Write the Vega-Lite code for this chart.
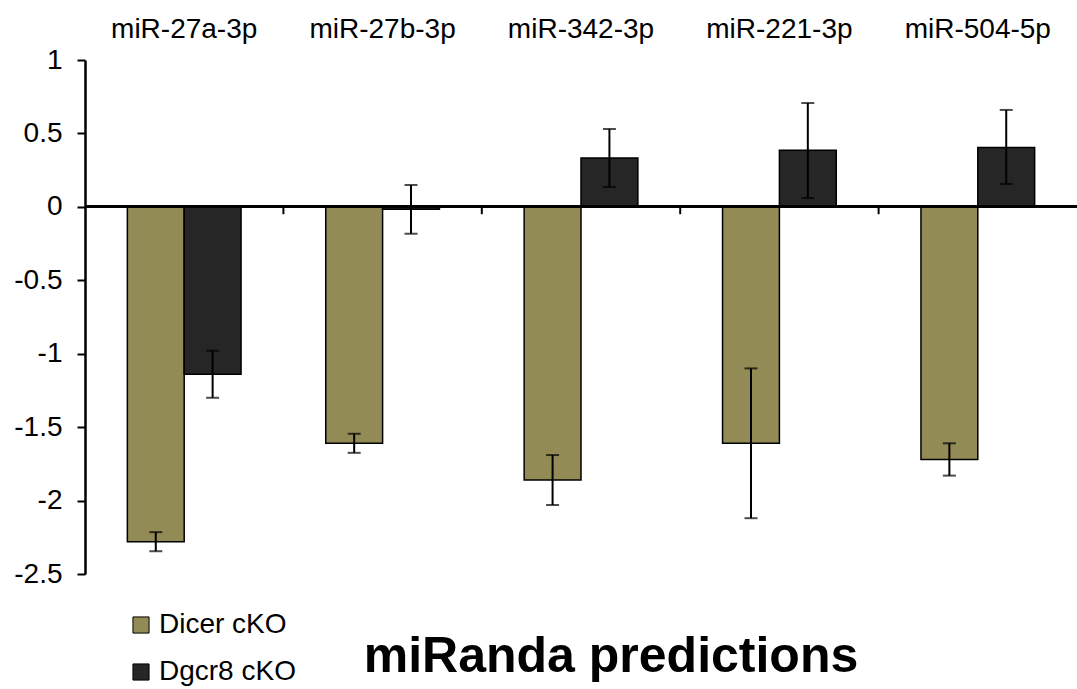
{
  "$schema": "https://vega.github.io/schema/vega-lite/v6.json",
  "autosize": {"type": "none"},
  "width": 992,
  "height": 514,
  "padding": {"left": 85, "top": 60, "right": 0, "bottom": 115},
  "background": "white",
  "config": {"font": "Liberation Sans", "view": {"stroke": null}},
  "title": {"text": "miRanda predictions", "orient": "bottom", "fontSize": 50, "fontWeight": "bold", "font": "Liberation Sans", "color": "black", "anchor": "middle", "dx": 30, "offset": -54},
  "datasets": {
    "bars": [
      {"mirna": "miR-27a-3p", "group": "Dicer cKO", "value": -2.28, "lo": -2.345, "hi": -2.215},
      {"mirna": "miR-27a-3p", "group": "Dgcr8 cKO", "value": -1.14, "lo": -1.3, "hi": -0.98},
      {"mirna": "miR-27b-3p", "group": "Dicer cKO", "value": -1.61, "lo": -1.675, "hi": -1.545},
      {"mirna": "miR-27b-3p", "group": "Dgcr8 cKO", "value": -0.017, "lo": -0.183, "hi": 0.149},
      {"mirna": "miR-342-3p", "group": "Dicer cKO", "value": -1.86, "lo": -2.03, "hi": -1.69},
      {"mirna": "miR-342-3p", "group": "Dgcr8 cKO", "value": 0.332, "lo": 0.135, "hi": 0.53},
      {"mirna": "miR-221-3p", "group": "Dicer cKO", "value": -1.61, "lo": -2.12, "hi": -1.1},
      {"mirna": "miR-221-3p", "group": "Dgcr8 cKO", "value": 0.385, "lo": 0.06, "hi": 0.707},
      {"mirna": "miR-504-5p", "group": "Dicer cKO", "value": -1.72, "lo": -1.83, "hi": -1.61},
      {"mirna": "miR-504-5p", "group": "Dgcr8 cKO", "value": 0.405, "lo": 0.156, "hi": 0.66}
    ],
    "bounds": [
      {"mirna": "miR-27b-3p"},
      {"mirna": "miR-342-3p"},
      {"mirna": "miR-221-3p"},
      {"mirna": "miR-504-5p"}
    ]
  },
  "layer": [
    {
      "data": {"name": "bars"},
      "mark": {"type": "bar", "stroke": "black", "strokeWidth": 1.5},
      "encoding": {
        "x": {"field": "mirna", "type": "nominal", "sort": null,
              "scale": {"paddingInner": 0, "paddingOuter": 0},
              "axis": {"orient": "top", "title": null, "domain": false, "ticks": false, "labelAngle": 0, "labelFontSize": 28, "labelColor": "black", "labelPadding": 17, "labelFont": "Liberation Sans"}},
        "xOffset": {"field": "group", "type": "nominal", "sort": ["Dicer cKO", "Dgcr8 cKO"], "scale": {"paddingOuter": 0.745, "paddingInner": 0}},
        "y": {"field": "value", "type": "quantitative",
              "scale": {"domain": [-2.5, 1], "nice": false, "zero": false},
              "axis": {"title": null, "grid": false, "values": [-2.5, -2, -1.5, -1, -0.5, 0, 0.5, 1], "labelExpr": "'' + datum.value", "labelFontSize": 28, "labelColor": "black", "labelPadding": 15, "tickSize": 8, "tickWidth": 2, "tickColor": "black", "domainColor": "black", "domainWidth": 2.5, "labelFont": "Liberation Sans"}},
        "color": {"field": "group", "type": "nominal",
                  "scale": {"domain": ["Dicer cKO", "Dgcr8 cKO"], "range": ["#938b55", "#262626"]},
                  "legend": {"title": null, "orient": "none", "legendX": 42, "legendY": 551, "symbolType": "square", "symbolSize": 260, "symbolStrokeColor": "black", "symbolStrokeWidth": 1, "labelFontSize": 28, "labelColor": "black", "rowPadding": 19, "labelOffset": 4, "labelFont": "Liberation Sans"}}
      }
    },
    {
      "data": {"name": "bars"},
      "mark": {"type": "rule", "color": "black", "strokeWidth": 2},
      "encoding": {
        "x": {"field": "mirna", "type": "nominal", "sort": null},
        "xOffset": {"field": "group", "type": "nominal", "sort": ["Dicer cKO", "Dgcr8 cKO"]},
        "y": {"field": "lo", "type": "quantitative"},
        "y2": {"field": "hi"}
      }
    },
    {
      "data": {"name": "bars"},
      "mark": {"type": "tick", "color": "black", "thickness": 2, "size": 13},
      "encoding": {
        "x": {"field": "mirna", "type": "nominal", "sort": null},
        "xOffset": {"field": "group", "type": "nominal", "sort": ["Dicer cKO", "Dgcr8 cKO"]},
        "y": {"field": "lo", "type": "quantitative"}
      }
    },
    {
      "data": {"name": "bars"},
      "mark": {"type": "tick", "color": "black", "thickness": 2, "size": 13},
      "encoding": {
        "x": {"field": "mirna", "type": "nominal", "sort": null},
        "xOffset": {"field": "group", "type": "nominal", "sort": ["Dicer cKO", "Dgcr8 cKO"]},
        "y": {"field": "hi", "type": "quantitative"}
      }
    },
    {
      "data": {"name": "bars"},
      "mark": {"type": "rule", "color": "black", "strokeWidth": 2.5},
      "encoding": {"y": {"datum": 0, "type": "quantitative"}}
    },
    {
      "data": {"name": "bounds"},
      "mark": {"type": "rule", "color": "black", "strokeWidth": 2},
      "encoding": {
        "x": {"field": "mirna", "type": "nominal", "sort": null, "bandPosition": 0},
        "y": {"datum": 0, "type": "quantitative"},
        "y2": {"datum": -0.05}
      }
    }
  ]
}
